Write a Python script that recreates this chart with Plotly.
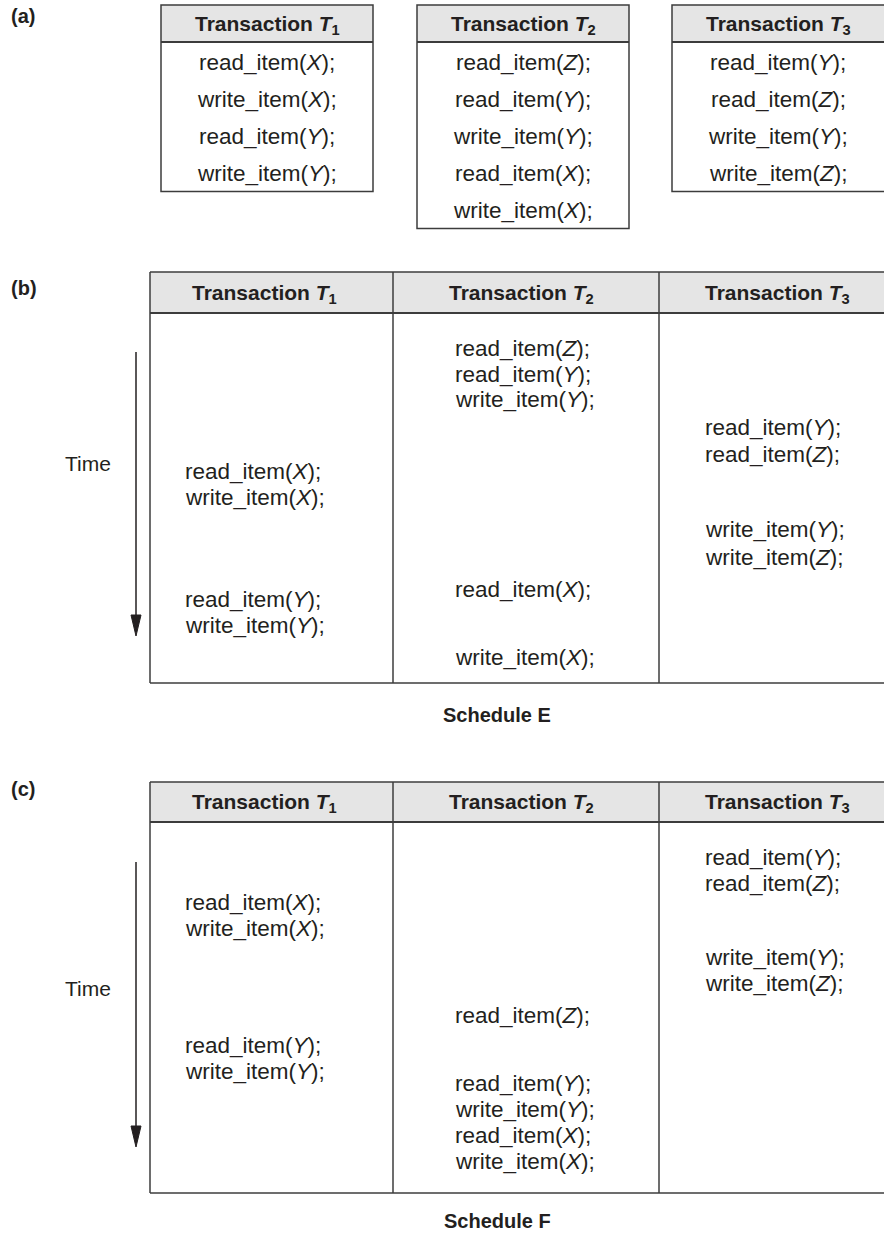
import re
import plotly.graph_objects as go

W, H = 884, 1235

# ---------------- data ----------------
transactions = ["T1", "T2", "T3"]
T1_ops = ["read_item(X)", "write_item(X)", "read_item(Y)", "write_item(Y)"]
T2_ops = ["read_item(Z)", "read_item(Y)", "write_item(Y)", "read_item(X)", "write_item(X)"]
T3_ops = ["read_item(Y)", "read_item(Z)", "write_item(Y)", "write_item(Z)"]
panel_labels = ["(a)", "(b)", "(c)"]
schedule_names = ["Schedule E", "Schedule F"]
time_label = "Time"

# time (in line units from the top of the schedule body) at which each operation runs
E_T1_time = [6.1, 7.1, 11.05, 12.05]
E_T2_time = [1.35, 2.35, 3.35, 10.65, 13.25]
E_T3_time = [4.4, 5.45, 8.35, 9.4]
F_T1_time = [3.08, 4.08, 8.58, 9.58]
F_T2_time = [7.42, 10.04, 11.04, 12.04, 13.04]
F_T3_time = [1.35, 2.35, 5.19, 6.19]

# ---------------- layout constants ----------------
TXT = "#231f20"
LINE = "#3c3c3c"
HEAD_FILL = "#e5e5e5"
FONT = "Liberation Sans, Arial, Helvetica, sans-serif"
FS_HEAD = 21
FS_BODY = 22.5

def py(p):
    return 1 - p / H

fig = go.Figure()
shapes, ann = [], []

def fmt_op(op):
    return re.sub(r"\(([A-Z])\)", r"(<i>\1</i>)", op) + ";"

def title(t):
    return "<b>Transaction <i>T</i><sub>%s</sub></b>" % t[1:]

# ----- panel (a): three separate transaction boxes -----
a_boxes = [(161, 373), (417, 629), (672, 886)]
a_centers = [267, 523, 778]
a_top, a_head = 5, 42
A_ROW0, A_ROWH = 43.5, 37.0
ops_all = [T1_ops, T2_ops, T3_ops]
nmax = max(len(o) for o in ops_all)
for i, (ops, (x0, x1), xc) in enumerate(zip(ops_all, a_boxes, a_centers)):
    bottom = A_ROW0 + A_ROWH * len(ops)
    shapes.append(dict(type="rect", xref="x", yref="y", x0=x0, x1=x1, y0=a_top, y1=a_head,
                       fillcolor=HEAD_FILL, line=dict(width=0), layer="below"))
    shapes.append(dict(type="rect", xref="x", yref="y", x0=x0, x1=x1, y0=a_top, y1=bottom,
                       line=dict(color=LINE, width=1.5)))
    shapes.append(dict(type="line", xref="x", yref="y", x0=x0, x1=x1, y0=a_head, y1=a_head,
                       line=dict(color=LINE, width=2)))
    ann.append(dict(x=xc, y=(a_top + a_head) / 2 + 1, xref="x", yref="y", text=title(transactions[i]),
                    showarrow=False, font=dict(size=FS_HEAD, color=TXT), xanchor="center", yanchor="middle"))
    for r, op in enumerate(ops):
        ann.append(dict(x=xc, y=r, xref="x", yref="y4", text=fmt_op(op), showarrow=False,
                        font=dict(size=FS_BODY, color=TXT), xanchor="center", yanchor="middle"))

# ----- panels (b) and (c): schedules -----
cols = [150, 393, 659, 900]
text_x = [183, 453, 703]
head_cx = [264, 521, 777]
BODY_UNITS = 14.25
panels = [
    dict(top=272, head=313, bottom=683, yref="y2", times=[E_T1_time, E_T2_time, E_T3_time],
         arrow=(352, 636), time_y=463, sched_y=715, label_y=288),
    dict(top=782, head=822, bottom=1193, yref="y3", times=[F_T1_time, F_T2_time, F_T3_time],
         arrow=(862, 1147), time_y=988, sched_y=1221, label_y=789),
]
for k, p in enumerate(panels):
    shapes.append(dict(type="rect", xref="x", yref="y", x0=cols[0], x1=cols[-1], y0=p["top"], y1=p["head"],
                       fillcolor=HEAD_FILL, line=dict(width=0), layer="below"))
    for yy, w in [(p["top"], 1.5), (p["head"], 2), (p["bottom"], 1.5)]:
        shapes.append(dict(type="line", xref="x", yref="y", x0=cols[0], x1=cols[-1], y0=yy, y1=yy,
                           line=dict(color=LINE, width=w)))
    for cx in cols[:-1]:
        shapes.append(dict(type="line", xref="x", yref="y", x0=cx, x1=cx, y0=p["top"], y1=p["bottom"],
                           line=dict(color=LINE, width=1.5)))
    for i, t in enumerate(transactions):
        ann.append(dict(x=head_cx[i], y=(p["top"] + p["head"]) / 2 + 1, xref="x", yref="y", text=title(t),
                        showarrow=False, font=dict(size=FS_HEAD, color=TXT), xanchor="center", yanchor="middle"))
        for op, tm in zip(ops_all[i], p["times"][i]):
            ann.append(dict(x=text_x[i], y=tm, xref="x", yref=p["yref"], text=fmt_op(op), showarrow=False,
                            font=dict(size=FS_BODY, color=TXT), xanchor="left", yanchor="middle"))
    # time arrow
    a0, a1 = p["arrow"]
    shapes.append(dict(type="line", xref="x", yref="y", x0=136, x1=136, y0=a0, y1=a1 - 18,
                       line=dict(color=TXT, width=1.5)))
    shapes.append(dict(type="path", xref="x", yref="y",
                       path="M 131 %d L 141 %d L 136 %d Z" % (a1 - 21, a1 - 21, a1),
                       fillcolor=TXT, line=dict(color=TXT, width=1)))
    ann.append(dict(x=88, y=p["time_y"], xref="x", yref="y", text=time_label, showarrow=False,
                    font=dict(size=FS_HEAD, color=TXT), xanchor="center", yanchor="middle"))
    ann.append(dict(x=497, y=p["sched_y"], xref="x", yref="y", text="<b>%s</b>" % schedule_names[k],
                    showarrow=False, font=dict(size=FS_HEAD - 1, color=TXT), xanchor="center", yanchor="middle"))

# panel labels
for lab, yy in zip(panel_labels, [16, panels[0]["label_y"], panels[1]["label_y"]]):
    ann.append(dict(x=9, y=yy, xref="x", yref="y", text="<b>%s</b>" % lab, showarrow=False,
                    font=dict(size=20, color=TXT), xanchor="left", yanchor="middle"))

# invisible traces so that every axis exists
for ya in ["y", "y2", "y3", "y4"]:
    fig.add_trace(go.Scatter(x=[None], y=[None], xaxis="x", yaxis=ya, showlegend=False, hoverinfo="skip"))

hidden = dict(visible=False, showgrid=False, zeroline=False, fixedrange=True)
fig.update_layout(
    width=W, height=H, margin=dict(l=0, r=0, t=0, b=0),
    paper_bgcolor="white", plot_bgcolor="white",
    font=dict(family=FONT, color=TXT),
    showlegend=False,
    xaxis=dict(range=[0, W], domain=[0, 1], **hidden),
    yaxis=dict(range=[H, 0], domain=[0, 1], anchor="x", **hidden),
    yaxis2=dict(range=[BODY_UNITS, 0], domain=[py(683), py(313)], anchor="x", **hidden),
    yaxis3=dict(range=[BODY_UNITS, 0], domain=[py(1193), py(822)], anchor="x", **hidden),
    yaxis4=dict(range=[nmax - 0.5, -0.5], domain=[py(A_ROW0 + A_ROWH * nmax), py(A_ROW0)], anchor="x", **hidden),
    shapes=shapes, annotations=ann,
)

fig.write_html("out.html", config={"staticPlot": True},
               post_script="document.body.style.margin='0';document.body.style.overflow='hidden';")
